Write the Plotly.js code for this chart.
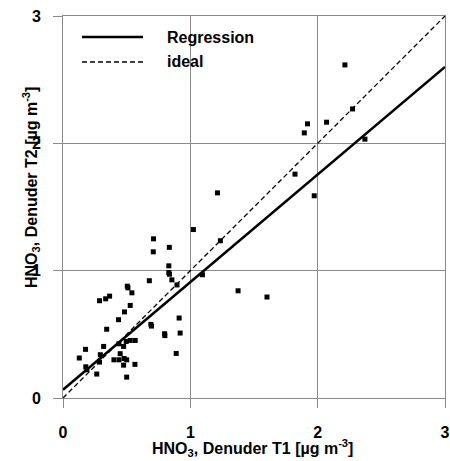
<!DOCTYPE html>
<html>
<head>
<meta charset="utf-8">
<script src="https://cdn.plot.ly/plotly-3.0.1.min.js"></script>
<style>html,body{margin:0;padding:0;background:#fff;}</style>
</head>
<body>
<div id="chart" style="width:450px;height:461px;"></div>
<script>
const t1Values = [0.128,0.177,0.179,0.188,0.265,0.287,0.293,0.319,0.343,0.436,0.483,0.528,0.287,0.335,0.366,0.505,0.51,0.541,0.678,0.711,0.709,0.835,0.831,0.831,0.836,0.855,0.895,0.912,0.690,0.695,0.798,0.80,0.92,0.567,0.528,0.497,0.476,0.439,0.449,0.40,0.44,0.48,0.50,0.476,0.565,0.50,0.889,1.024,1.213,1.236,1.095,1.375,1.602,1.822,1.973,1.895,1.92,2.07,2.274,2.214,2.371];
const t2Values = [0.314,0.382,0.245,0.222,0.188,0.282,0.34,0.405,0.540,0.615,0.676,0.727,0.764,0.779,0.800,0.878,0.865,0.826,0.921,1.25,1.148,1.183,1.038,0.985,0.972,0.928,0.888,0.628,0.578,0.565,0.505,0.490,0.51,0.452,0.452,0.444,0.405,0.426,0.348,0.30,0.30,0.31,0.30,0.258,0.264,0.164,0.350,1.323,1.611,1.235,0.968,0.842,0.793,1.758,1.588,2.082,2.153,2.166,2.27,2.616,2.033];
const regressionX = [0, 3];
const regressionY = [0.065, 2.6];
const idealX = [0, 3];
const idealY = [0, 3];
const tickVals = [0, 1, 2, 3];
const tickText = ['0', '1', '2', '3'];
const legendLabels = ['Regression', 'ideal'];

const font = 'Arial, "Liberation Sans", sans-serif';
const traces = [
  {x: t1Values, y: t2Values, mode: 'markers', type: 'scatter', showlegend: false,
   marker: {symbol: 'square', size: 5, color: '#000'}},
  {x: regressionX, y: regressionY, mode: 'lines', type: 'scatter', showlegend: false,
   line: {color: '#000', width: 2.5}},
  {x: idealX, y: idealY, mode: 'lines', type: 'scatter', showlegend: false,
   line: {color: '#000', width: 1.3, dash: '5px,3px'}}
];
const axisCommon = {
  range: [0, 3], tickvals: tickVals, ticktext: tickText,
  showgrid: true, gridcolor: '#8a8a8a', gridwidth: 1,
  showline: true, linecolor: '#8a8a8a', linewidth: 1, mirror: true,
  ticks: 'outside', ticklen: 9, tickcolor: '#8a8a8a',
  zeroline: false, fixedrange: true,
  tickfont: {family: font, size: 16, color: '#000', weight: 'bold'}
};
const layout = {
  width: 450, height: 461,
  margin: {l: 63, r: 5, t: 16, b: 63},
  paper_bgcolor: '#fff', plot_bgcolor: '#fff',
  xaxis: Object.assign({}, axisCommon, {ticklabelstandoff: 11}),
  yaxis: Object.assign({}, axisCommon, {ticklabelstandoff: 9}),
  showlegend: false,
  shapes: [
    {type: 'line', xref: 'paper', yref: 'paper', x0: 19/382, x1: 80/382, y0: (398-37)/382, y1: (398-37)/382,
     line: {color: '#000', width: 2.5}},
    {type: 'line', xref: 'paper', yref: 'paper', x0: 19/382, x1: 80/382, y0: (398-62)/382, y1: (398-62)/382,
     line: {color: '#000', width: 1.3, dash: '5px,3px'}}
  ],
  annotations: [
    {text: legendLabels[0], xref: 'paper', yref: 'paper', x: 102/382, y: (398-37)/382, xanchor: 'left', yanchor: 'middle',
     showarrow: false, font: {family: font, size: 16, color: '#000', weight: 'bold'}},
    {text: legendLabels[1], xref: 'paper', yref: 'paper', x: 102/382, y: (398-62)/382, xanchor: 'left', yanchor: 'middle',
     showarrow: false, font: {family: font, size: 16, color: '#000', weight: 'bold'}},
    {text: 'HNO<sub>3</sub>, Denuder T1 [µg m<sup>-3</sup>]', xref: 'paper', yref: 'paper', x: 0.497, y: -50/382,
     xanchor: 'center', yanchor: 'middle', showarrow: false,
     font: {family: font, size: 16, color: '#000', weight: 'bold'}},
    {text: 'HNO<sub>3</sub>, Denuder T2 [µg m<sup>-3</sup>]', xref: 'paper', yref: 'paper', x: -32/382, y: (398-188)/382,
     xanchor: 'center', yanchor: 'middle', textangle: -90, showarrow: false,
     font: {family: font, size: 16, color: '#000', weight: 'bold'}}
  ]
};
Plotly.newPlot('chart', traces, layout, {displayModeBar: false, staticPlot: true});
</script>
</body>
</html>
